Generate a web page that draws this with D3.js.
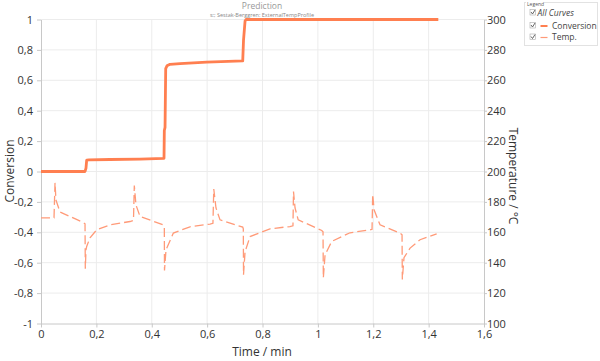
<!DOCTYPE html>
<html lang="en">
<head>
<meta charset="utf-8">
<title>Prediction</title>
<script src="https://cdn.jsdelivr.net/npm/d3@7"></script>
<style>
  body { margin: 0; background: #fff; font-family: "Open Sans", "Noto Sans", sans-serif; }
  svg { display: block; }
  .tick text { fill: #333; font-size: 11px; }
  .grid line { stroke: #ececec; }
</style>
</head>
<body>
<svg id="chart" width="600" height="361"></svg>
<script>
// conversion curve, time in min
var convTime = [0, 0.159, 0.1625, 0.165, 0.1734, 0.249, 0.3576, 0.4443, 0.4454, 0.448, 0.4504, 0.455, 0.466, 0.502, 0.5985, 0.7286, 0.7314, 0.737, 0.7405, 1.435];
var convValue = [0, 0, 0.023, 0.075, 0.077, 0.079, 0.082, 0.0866, 0.27, 0.29, 0.677, 0.695, 0.705, 0.71, 0.72, 0.728, 0.862, 0.99, 1, 1];

// temperature curve (°C)
var tempTime = [0, 0.047, 0.0506, 0.054, 0.0686, 0.1528, 0.159, 0.16, 0.1625, 0.165, 0.177, 0.201, 0.249, 0.3215, 0.334,
  0.337, 0.343, 0.3576, 0.4418, 0.4454, 0.446, 0.4515, 0.478, 0.538, 0.6105, 0.621,
  0.624, 0.632, 0.6466, 0.7286, 0.7307, 0.7314, 0.737, 0.755, 0.827, 0.899, 0.910,
  0.912, 0.9175, 0.929, 1.014, 1.0186, 1.0197, 1.026, 1.05, 1.116, 1.188, 1.1956,
  1.198, 1.203, 1.2245, 1.2967, 1.304, 1.305, 1.311, 1.333, 1.369, 1.429];
var tempValue = [169.5, 169.5, 192.5, 181.3, 173.4, 166.4, 165.6, 136, 148.5, 150.7, 156.4, 161.6, 164.9, 167.1, 167.9,
  190.7, 178, 170.4, 164.9, 163, 134.9, 148.5, 159.5, 163.6, 165.4, 165.9,
  188.5, 176, 168.2, 163.4, 162.3, 132.1, 147.2, 157.2, 162.3, 163.8, 164.3,
  186.8, 176, 168.2, 161.2, 160.3, 130, 145.2, 154, 159.7, 161.6, 162,
  185, 174.8, 164.9, 159.5, 158.4, 128.9, 143.3, 149.6, 155.1, 159];

var xTicks = [0, 0.2, 0.4, 0.6, 0.8, 1, 1.2, 1.4, 1.6];
var convTicks = [-1, -0.8, -0.6, -0.4, -0.2, 0, 0.2, 0.4, 0.6, 0.8, 1];
var tempTicks = [100, 120, 140, 160, 180, 200, 220, 240, 260, 280, 300];
var legendItems = ["All Curves", "Conversion", "Temp."];

var convColor = "#ff7f50", tempColor = "#ff9a78";
var svg = d3.select("#chart");
var m = {left: 41, right: 484, top: 19.5, bottom: 323.5};

var x = d3.scaleLinear().domain([0, 1.6]).range([m.left, m.right]);
var yc = d3.scaleLinear().domain([-1, 1]).range([m.bottom, m.top]);
var yt = d3.scaleLinear().domain([100, 300]).range([m.bottom, m.top]);
var comma = function(d) { return String(d).replace(".", ","); };

// grid
svg.append("g").attr("class", "grid").selectAll("line").data(xTicks.slice(1, -1)).join("line")
  .attr("x1", x).attr("x2", x).attr("y1", m.top).attr("y2", m.bottom);
svg.append("g").attr("class", "grid").selectAll("line").data(convTicks.slice(1)).join("line")
  .attr("x1", m.left).attr("x2", m.right).attr("y1", yc).attr("y2", yc);

function styleAxis(g) {
  g.selectAll(".domain").attr("stroke", "#c8c8c8");
  g.selectAll(".tick line").attr("stroke", "#c8c8c8");
  g.selectAll(".tick text").attr("font-family", "Open Sans, sans-serif");
}

svg.append("g").attr("transform", "translate(0," + m.bottom + ")")
  .call(d3.axisBottom(x).tickValues(xTicks).tickFormat(comma).tickSize(4).tickSizeOuter(0).tickPadding(3))
  .call(styleAxis);
svg.append("g").attr("transform", "translate(" + m.left + ",0)")
  .call(d3.axisLeft(yc).tickValues(convTicks).tickFormat(comma).tickSize(4).tickSizeOuter(0).tickPadding(4))
  .call(styleAxis);
svg.append("g").attr("transform", "translate(" + m.right + ",0)")
  .call(d3.axisRight(yt).tickValues(tempTicks).tickSize(3).tickSizeOuter(0).tickPadding(0))
  .call(styleAxis);

// lines
var tempLine = d3.line().x(function(d, i) { return x(tempTime[i]); }).y(function(d) { return yt(d); });
svg.append("path").datum(tempValue).attr("d", tempLine)
  .attr("fill", "none").attr("stroke", tempColor).attr("stroke-width", 1.3)
  .attr("stroke-dasharray", "9,4");

var convLine = d3.line().x(function(d, i) { return x(convTime[i]); }).y(function(d) { return yc(d); });
svg.append("path").datum(convValue).attr("d", convLine)
  .attr("fill", "none").attr("stroke", convColor).attr("stroke-width", 2.8)
  .attr("stroke-linejoin", "round");

// titles
svg.append("text").attr("x", 262).attr("y", 9).attr("text-anchor", "middle")
  .attr("font-size", 8.5).attr("fill", "#999").text("Prediction");
svg.append("text").attr("x", 262).attr("y", 17).attr("text-anchor", "middle")
  .attr("font-size", 5.5).attr("fill", "#888").text("s:; Sestak-Berggren: ExternalTempProfile");
svg.append("text").attr("x", 262).attr("y", 356).attr("text-anchor", "middle")
  .attr("font-size", 12).attr("fill", "#333").text("Time / min");
svg.append("text").attr("transform", "translate(14,171) rotate(-90)").attr("text-anchor", "middle")
  .attr("font-size", 12).attr("fill", "#333").text("Conversion");
svg.append("text").attr("transform", "translate(509,176) rotate(90)").attr("text-anchor", "middle")
  .attr("font-size", 12).attr("fill", "#333").text("Temperature / °C");

// legend
var lg = svg.append("g");
lg.append("rect").attr("x", 524.5).attr("y", 2.5).attr("width", 73).attr("height", 43)
  .attr("fill", "#fff").attr("stroke", "#e2e2e2");
lg.append("rect").attr("x", 526).attr("y", 0).attr("width", 18).attr("height", 6).attr("fill", "#fff");
lg.append("text").attr("x", 527).attr("y", 5.5).attr("font-size", 5).attr("fill", "#555").text("Legend");
var rows = lg.selectAll("g.row").data(legendItems).join("g").attr("class", "row")
  .attr("transform", function(d, i) { return "translate(530," + [12.5, 25.5, 37][i] + ")"; });
rows.append("rect").attr("x", 0).attr("y", -3).attr("width", 5.5).attr("height", 5.5)
  .attr("fill", "#fff").attr("stroke", "#aaa").attr("stroke-width", 0.6);
rows.append("path").attr("d", "M1,-0.5 L2.5,1.5 L5,-2.5").attr("fill", "none").attr("stroke", "#555").attr("stroke-width", 0.9);
rows.filter(function(d, i) { return i > 0; }).append("line")
  .attr("x1", 10.5).attr("x2", 17.5).attr("y1", 0.5).attr("y2", 0.5)
  .attr("stroke", function(d, i) { return i === 0 ? convColor : tempColor; })
  .attr("stroke-width", function(d, i) { return i === 0 ? 2 : 1.2; });
rows.append("text").attr("x", function(d, i) { return i === 0 ? 7.5 : 22; }).attr("y", 3)
  .attr("font-size", 8.5).attr("fill", "#444")
  .attr("font-style", function(d, i) { return i === 0 ? "italic" : null; })
  .text(function(d) { return d; });
</script>
</body>
</html>
